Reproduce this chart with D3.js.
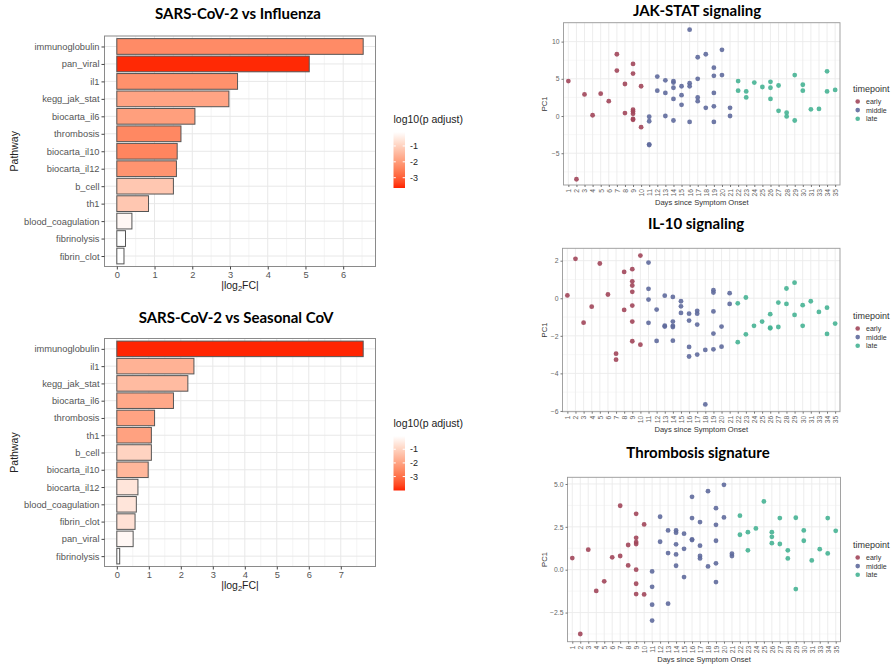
<!DOCTYPE html>
<html lang="en">
<head>
<meta charset="UTF-8">
<title>Pathway comparison and PC1 over time</title>
<script src="https://cdnjs.cloudflare.com/ajax/libs/d3/7.8.5/d3.min.js"></script>
<style>
    body { margin: 0; background: #fff; }
    svg { font-family: "Liberation Sans", Arial, sans-serif; }
    .ptitle { font-family: Lato, "Open Sans", sans-serif; font-weight: bold; fill: #000; }
</style>
</head>
<body>
<svg id="chart" width="891" height="665"></svg>
<script>
// ---- bar charts: |log2FC| per pathway, filled by log10(p adjust)
const fluPathways = ["immunoglobulin", "pan_viral", "il1", "kegg_jak_stat", "biocarta_il6", "thrombosis",
    "biocarta_il10", "biocarta_il12", "b_cell", "th1", "blood_coagulation", "fibrinolysis", "fibrin_clot"];
const fluFC = [6.53, 5.10, 3.20, 2.97, 2.07, 1.70, 1.60, 1.58, 1.50, 0.84, 0.40, 0.23, 0.19];
const fluLogP = [-2.3, -3.6, -2.2, -1.85, -1.95, -2.35, -2.4, -2.15, -1.2, -1.2, -0.27, -0.12, -0.12];

const covPathways = ["immunoglobulin", "il1", "kegg_jak_stat", "biocarta_il6", "thrombosis", "th1", "b_cell",
    "biocarta_il10", "biocarta_il12", "blood_coagulation", "fibrin_clot", "pan_viral", "fibrinolysis"];
const covFC = [7.70, 2.41, 2.22, 1.77, 1.18, 1.08, 1.08, 0.98, 0.66, 0.61, 0.57, 0.51, 0.09];
const covLogP = [-4.0, -1.7, -1.5, -1.9, -2.0, -2.05, -1.0, -1.6, -0.6, -0.6, -0.7, -0.2, -0.03];

const legendTicks = [-1, -2, -3];

// ---- scatter plots: PC1 by day since symptom onset
const dayLabels = ["1","2","3","4","5","6","7","8","9","10","11","12","13","14","15","16","17",
    "18","19","20","21","22","23","24","25","26","27","28","29","30","31","33","34","35"];
const timepoints = ["early", "middle", "late"];

const jakEarly = [[1,4.7],[2,-8.5],[3,2.9],[4,0.1],[5,3.0],[6,2.0],[7,8.3],[7,6.1],[8,4.3],[8,0.4],
    [9,7.0],[9,5.7],[9,0.85],[9,0.6],[9,0.3],[9,-0.4],[9,-0.5],[10,4.0],[10,-1.5]];
const jakMiddle = [[11,-0.1],[11,-0.7],[11,-3.8],[11,-3.9],[12,5.3],[12,3.4],[13,4.8],[13,3.1],[13,0.0],
    [14,4.7],[14,4.5],[14,3.8],[14,2.3],[14,-0.6],[15,4.0],[15,2.8],[15,1.5],[16,11.6],[16,4.4],[16,4.0],
    [16,-0.8],[17,7.9],[17,5.0],[17,2.5],[17,2.0],[18,8.3],[18,1.1],[19,6.5],[19,5.4],[19,3.1],[19,1.3],
    [19,-0.8],[20,8.9],[20,5.5],[21,1.1],[21,0.0]];
const jakLate = [[22,4.7],[22,3.4],[23,3.3],[23,2.5],[24,4.5],[25,3.9],[26,4.6],[26,3.8],[26,2.3],
    [27,4.1],[27,0.7],[28,0.45],[28,-0.05],[29,5.5],[29,-0.6],[30,4.2],[30,3.4],[31,0.9],[33,0.95],
    [34,6.0],[34,3.3],[35,3.5]];

const il10Early = [[1,0.15],[2,2.1],[3,-1.3],[4,-0.45],[5,1.85],[6,0.2],[7,-2.95],[7,-3.27],[8,1.4],
    [8,-0.62],[9,1.55],[9,0.9],[9,0.68],[9,0.34],[9,-0.39],[9,-1.24],[9,-2.29],[10,2.27],[10,-2.47]];
const il10Middle = [[11,1.9],[11,0.5],[11,-0.07],[11,-1.31],[12,-0.6],[12,-2.27],[13,0.14],[13,-1.46],
    [13,-1.51],[14,0.07],[14,-1.24],[14,-1.47],[14,-1.53],[14,-2.26],[15,-0.16],[15,-0.43],[15,-0.78],
    [16,-0.82],[16,-1.19],[16,-2.59],[16,-3.1],[17,-0.67],[17,-0.82],[17,-1.4],[17,-3.0],[18,-2.75],
    [18,-5.65],[19,0.43],[19,0.3],[19,-0.7],[19,-1.88],[19,-2.72],[20,-1.51],[20,-2.58],[21,0.27],[21,-0.3]];
const il10Late = [[22,-0.27],[22,-2.34],[23,0.04],[23,-1.92],[24,-1.47],[25,-1.24],[26,-0.85],[26,-1.56],
    [26,-1.6],[27,-0.23],[27,-1.53],[28,0.52],[28,-0.3],[29,0.83],[29,-0.89],[30,-0.37],[30,-1.47],
    [31,-0.16],[33,-0.73],[34,-0.5],[34,-1.9],[35,-1.35]];

const thrEarly = [[1,0.68],[2,-3.75],[3,1.17],[4,-1.24],[5,-0.68],[6,0.72],[7,3.73],[7,0.8],[8,1.44],
    [8,0.25],[9,3.26],[9,1.86],[9,1.61],[9,1.5],[9,0.0],[9,-0.82],[9,-1.42],[10,2.64],[10,-1.44]];
const thrMiddle = [[11,-0.1],[11,-1.0],[11,-2.04],[11,-2.97],[12,3.09],[12,1.63],[13,2.29],[13,0.97],
    [13,-1.98],[14,2.29],[14,2.16],[14,1.48],[14,0.89],[14,0.23],[15,2.1],[15,1.22],[15,-0.43],[16,4.25],
    [16,3.01],[16,1.77],[16,1.73],[17,2.78],[17,1.4],[17,0.8],[17,0.66],[18,4.58],[18,0.19],[19,3.59],
    [19,2.62],[19,1.69],[19,0.37],[19,-0.72],[20,4.95],[20,3.05],[21,0.93],[21,0.8]];
const thrLate = [[22,3.15],[22,2.04],[23,2.19],[23,1.13],[24,2.41],[25,3.98],[26,2.19],[26,1.92],[26,1.55],
    [27,3.01],[27,1.5],[28,1.13],[28,0.66],[29,3.03],[29,-1.13],[30,2.29],[30,1.69],[31,0.54],[33,1.2],
    [34,3.01],[34,0.95],[35,2.27]];

const svg = d3.select("#chart");
const pointColor = d3.scaleOrdinal().domain(timepoints).range(["#a1465a", "#5f6a9c", "#46b393"]);

function barChart(o) {
    const g = svg.append("g");
    const maxV = d3.max(o.values);
    const x = d3.scaleLinear().domain([-0.05 * maxV, 1.05 * maxV]).range([o.left, o.right]);
    const y = d3.scalePoint().domain(o.names).range([o.top, o.bottom]).padding(0.6);
    const step = y.step();
    const fill = d3.scaleLinear().domain(o.legDomain).range(["#ff2200", "#ffffff"]).interpolate(d3.interpolateLab);
    const xTicks = d3.range(0, Math.floor(maxV) + 1);

    // grid
    g.selectAll(".minor").data(xTicks.map(t => t + 0.5).filter(t => t < 1.05 * maxV))
        .enter().append("line")
        .attr("x1", d => x(d)).attr("x2", d => x(d)).attr("y1", o.top).attr("y2", o.bottom)
        .attr("stroke", "#f4f4f4");
    g.selectAll(".vmajor").data(xTicks).enter().append("line")
        .attr("x1", d => x(d)).attr("x2", d => x(d)).attr("y1", o.top).attr("y2", o.bottom)
        .attr("stroke", "#e8e8e8");
    g.selectAll(".hmajor").data(o.names).enter().append("line")
        .attr("x1", o.left).attr("x2", o.right).attr("y1", d => y(d)).attr("y2", d => y(d))
        .attr("stroke", "#e8e8e8");

    // bars
    g.selectAll(".bar").data(o.names).enter().append("rect")
        .attr("x", x(0))
        .attr("y", d => y(d) - step * 0.45)
        .attr("width", (d, i) => x(o.values[i]) - x(0))
        .attr("height", step * 0.9)
        .attr("fill", (d, i) => fill(o.logp[i]))
        .attr("stroke", "#555")
        .attr("stroke-width", 1);

    g.append("rect").attr("x", o.left).attr("y", o.top)
        .attr("width", o.right - o.left).attr("height", o.bottom - o.top)
        .attr("fill", "none").attr("stroke", "#8a8a8a");

    // axes
    const xAxis = g.append("g").attr("transform", `translate(0,${o.bottom})`)
        .call(d3.axisBottom(x).tickValues(xTicks).tickSize(3).tickPadding(2));
    const yAxis = g.append("g").attr("transform", `translate(${o.left},0)`)
        .call(d3.axisLeft(y).tickSize(3).tickPadding(2));
    [xAxis, yAxis].forEach(a => {
        a.select(".domain").remove();
        a.selectAll(".tick line").attr("stroke", "#444");
        a.selectAll(".tick text").attr("fill", "#555").style("font-size", "9.3px")
            .style("font-family", "'Liberation Sans', Arial, sans-serif");
    });

    g.append("text").attr("class", "ptitle").attr("x", o.titleX).attr("y", o.titleY)
        .attr("text-anchor", "middle").style("font-size", "15px").text(o.title);

    const xt = g.append("text").attr("x", (o.left + o.right) / 2).attr("y", o.bottom + 22)
        .attr("text-anchor", "middle").attr("fill", "#222").style("font-size", "10.5px");
    xt.append("tspan").text("|log");
    xt.append("tspan").attr("dy", 2.5).style("font-size", "7.5px").text("2");
    xt.append("tspan").attr("dy", -2.5).text("FC|");

    g.append("text").attr("transform", `translate(18,${(o.top + o.bottom) / 2}) rotate(-90)`)
        .attr("text-anchor", "middle").attr("fill", "#222").style("font-size", "10.5px").text("Pathway");

    // colour bar legend
    const lx = 393.5, lw = 11.5;
    const ly = d3.scaleLinear().domain(o.legDomain).range([o.legBottom, o.legTop]);
    const gradId = "grad" + o.id;
    const grad = svg.append("defs").append("linearGradient").attr("id", gradId)
        .attr("x1", 0).attr("x2", 0).attr("y1", 1).attr("y2", 0);
    d3.range(0, 1.0001, 0.1).forEach(t => {
        const v = o.legDomain[0] + t * (o.legDomain[1] - o.legDomain[0]);
        grad.append("stop").attr("offset", t).attr("stop-color", fill(v));
    });
    g.append("text").attr("x", lx).attr("y", o.legTop - 9).attr("fill", "#222")
        .style("font-size", "10.5px").text("log10(p adjust)");
    g.append("rect").attr("x", lx).attr("y", o.legTop).attr("width", lw)
        .attr("height", o.legBottom - o.legTop).attr("fill", `url(#${gradId})`);
    legendTicks.forEach(t => {
        g.append("line").attr("x1", lx).attr("x2", lx + 2.3).attr("y1", ly(t)).attr("y2", ly(t)).attr("stroke", "#fff");
        g.append("line").attr("x1", lx + lw - 2.3).attr("x2", lx + lw).attr("y1", ly(t)).attr("y2", ly(t)).attr("stroke", "#fff");
        g.append("text").attr("x", lx + lw + 5).attr("y", ly(t)).attr("dy", "0.35em")
            .attr("fill", "#222").style("font-size", "9px").text(t);
    });
}

function scatter(o) {
    const g = svg.append("g");
    const x = d3.scalePoint().domain(dayLabels).range([o.left, o.right]).padding(0.6);
    const y = d3.scaleLinear().domain(o.yDomain).range([o.bottom, o.top]);

    g.selectAll(".hminor").data(o.yMinor).enter().append("line")
        .attr("x1", o.left).attr("x2", o.right).attr("y1", d => y(d)).attr("y2", d => y(d))
        .attr("stroke", "#f4f4f4").attr("stroke-width", 0.7);
    g.selectAll(".hmajor").data(o.yTicks).enter().append("line")
        .attr("x1", o.left).attr("x2", o.right).attr("y1", d => y(d)).attr("y2", d => y(d))
        .attr("stroke", "#ebebeb").attr("stroke-width", 0.9);
    g.selectAll(".vmajor").data(dayLabels).enter().append("line")
        .attr("x1", d => x(d)).attr("x2", d => x(d)).attr("y1", o.top).attr("y2", o.bottom)
        .attr("stroke", "#ebebeb").attr("stroke-width", 0.9);

    o.groups.forEach((pts, gi) => {
        g.selectAll(".pt" + gi).data(pts).enter().append("circle")
            .attr("cx", d => x(String(d[0])))
            .attr("cy", d => y(d[1]))
            .attr("r", 2.4)
            .attr("fill", pointColor(timepoints[gi]))
            .attr("fill-opacity", 0.9);
    });

    g.append("rect").attr("x", o.left).attr("y", o.top)
        .attr("width", o.right - o.left).attr("height", o.bottom - o.top)
        .attr("fill", "none").attr("stroke", "#999").attr("stroke-width", 0.9);

    const xAxis = g.append("g").attr("transform", `translate(0,${o.bottom})`)
        .call(d3.axisBottom(x).tickSize(2).tickPadding(2));
    xAxis.selectAll(".tick text")
        .attr("transform", "rotate(-90)")
        .attr("x", -4).attr("y", 0).attr("dy", "0.35em")
        .attr("text-anchor", "end");
    const yAxis = g.append("g").attr("transform", `translate(${o.left},0)`)
        .call(d3.axisLeft(y).tickValues(o.yTicks).tickFormat(o.yFormat).tickSize(2).tickPadding(2));
    [xAxis, yAxis].forEach(a => {
        a.select(".domain").remove();
        a.selectAll(".tick line").attr("stroke", "#555").attr("stroke-width", 0.8);
        a.selectAll(".tick text").attr("fill", "#666").style("font-size", "6.8px")
            .style("font-family", "'Liberation Sans', Arial, sans-serif");
    });

    g.append("text").attr("class", "ptitle").attr("x", o.titleX).attr("y", o.titleY)
        .attr("text-anchor", "middle").style("font-size", "15px").text(o.title);
    g.append("text").attr("x", (o.left + o.right) / 2).attr("y", o.bottom + 20)
        .attr("text-anchor", "middle").attr("fill", "#333").style("font-size", "7.6px")
        .text("Days since Symptom Onset");
    g.append("text").attr("transform", `translate(547,${(o.top + o.bottom) / 2}) rotate(-90)`)
        .attr("text-anchor", "middle").attr("fill", "#333").style("font-size", "7.6px").text("PC1");

    // legend
    const lg = g.append("g").attr("transform", `translate(853,${o.legY})`);
    lg.append("text").attr("x", 0).attr("y", 0).attr("dy", "0.35em").attr("fill", "#333")
        .style("font-size", "9px").text("timepoint");
    timepoints.forEach((t, i) => {
        const yy = 12.5 + i * 8.6;
        lg.append("circle").attr("cx", 4.7).attr("cy", yy).attr("r", 2.3)
            .attr("fill", pointColor(t)).attr("fill-opacity", 0.9);
        lg.append("text").attr("x", 13).attr("y", yy).attr("dy", "0.35em").attr("fill", "#333")
            .style("font-size", "7px").text(t);
    });
}

barChart({
    id: "flu", names: fluPathways, values: fluFC, logp: fluLogP, title: "SARS-CoV-2 vs Influenza",
    titleX: 238, titleY: 19, left: 104.5, right: 375.5, top: 36, bottom: 266.5,
    legDomain: [-3.65, -0.12], legTop: 132, legBottom: 188
});
barChart({
    id: "cov", names: covPathways, values: covFC, logp: covLogP, title: "SARS-CoV-2 vs Seasonal CoV",
    titleX: 236, titleY: 323, left: 104.5, right: 375.5, top: 338.5, bottom: 566.5,
    legDomain: [-4.02, -0.03], legTop: 436, legBottom: 490.5
});

scatter({
    title: "JAK-STAT signaling", titleX: 697, titleY: 15.5,
    left: 563.5, right: 840, top: 22.7, bottom: 185,
    yDomain: [-9.27, 12.54], yTicks: [-5, 0, 5, 10], yMinor: [-7.5, -2.5, 2.5, 7.5, 12.5], yFormat: d3.format("d"),
    groups: [jakEarly, jakMiddle, jakLate], legY: 89
});
scatter({
    title: "IL-10 signaling", titleX: 696, titleY: 229,
    left: 562.5, right: 840, top: 248.3, bottom: 411.7,
    yDomain: [-6.04, 2.66], yTicks: [-6, -4, -2, 0, 2], yMinor: [-5, -3, -1, 1], yFormat: d3.format("d"),
    groups: [il10Early, il10Middle, il10Late], legY: 316
});
scatter({
    title: "Thrombosis signature", titleX: 698, titleY: 458,
    left: 567.5, right: 840.5, top: 477.3, bottom: 641.7,
    yDomain: [-4.2, 5.39], yTicks: [-2.5, 0, 2.5, 5], yMinor: [-3.75, -1.25, 1.25, 3.75], yFormat: d3.format(".1f"),
    groups: [thrEarly, thrMiddle, thrLate], legY: 545
});
</script>
</body>
</html>
